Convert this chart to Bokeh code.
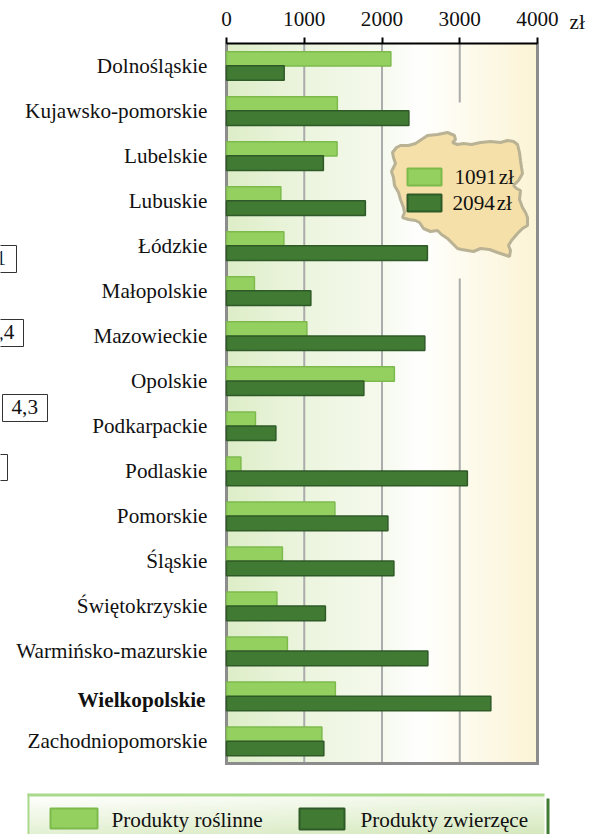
from bokeh.plotting import figure
from bokeh.embed import file_html
from bokeh.resources import INLINE
from bokeh.models import Range1d, FixedTicker, Label, BoxAnnotation, PolyAnnotation
import numpy as np

regions = ["Dolnośląskie", "Kujawsko-pomorskie", "Lubelskie", "Lubuskie", "Łódzkie", "Małopolskie",
           "Mazowieckie", "Opolskie", "Podkarpackie", "Podlaskie", "Pomorskie", "Śląskie",
           "Świętokrzyskie", "Warmińsko-mazurskie", "Wielkopolskie", "Zachodniopomorskie"]
roslinne = [2114, 1426, 1422, 699, 738, 359, 1034, 2159, 372, 185, 1394, 719, 648, 783, 1400, 1227]
zwierzece = [742, 2346, 1246, 1786, 2584, 1085, 2551, 1767, 635, 3098, 2076, 2153, 1272, 2590, 3400, 1252]
x_ticks = [0, 1000, 2000, 3000, 4000]
srednia = ["1091\u200azł", "2094\u200azł"]
legend_names = ["Produkty roślinne", "Produkty zwierzęce"]

LIGHT, LIGHT_E = "#94d060", "#7cba4c"
DARK, DARK_E = "#417a33", "#2f5a28"
FONT = "Liberation Serif"
INK = "#111111"
SIZE = "21.2px"

W, H = 595, 834
L, R = 226.0, 537.0          # plot area, pixels
T, B = 42.5, 763.0
PX_X = (R - L) / 4000.0
PX_Y = (B - T) / 16.0
Y0 = T + PX_Y / 2


def X(px):
    return (px - L) / PX_X


def Y(px):
    return (px - Y0) / PX_Y


p = figure(width=W, height=H, output_backend="svg", toolbar_location=None,
           x_range=Range1d(X(0), X(W)), y_range=Range1d(Y(H), Y(0)),
           x_axis_location="above", min_border=0, margin=(0, 0, 0, 0))
p.background_fill_color = None
p.border_fill_color = None
p.outline_line_color = None
p.xgrid.grid_line_color = None
p.ygrid.grid_line_color = None

rows = np.arange(len(regions))
top, bottom = rows[0] - 0.5, rows[-1] + 0.5

# background gradient of the plot area
stops = [0, .2, .5, .62, .75, 1]
cols = np.array([[222, 238, 200], [234, 244, 219], [246, 250, 238], [255, 255, 255], [254, 252, 240], [252, 244, 214]])
n = int(R - L)
t = np.linspace(0, 1, n)
img = np.zeros((1, n), dtype=np.uint32)
view = img.view(np.uint8).reshape((1, n, 4))
for c in range(3):
    view[0, :, c] = np.interp(t, stops, cols[:, c])
view[0, :, 3] = 255
p.image_rgba(image=[img], x=0, y=top, dw=4000, dh=bottom - top, level="image")

# bottom legend background
lw_, lh_ = 120, 20
limg = np.zeros((lh_, lw_), dtype=np.uint32)
lv = limg.view(np.uint8).reshape((lh_, lw_, 4))
for j in range(lh_):
    for i in range(lw_):
        f = 0.35 * i / (lw_ - 1) + 0.65 * (j / (lh_ - 1))
        lv[j, i, 0] = 254 - 40 * f
        lv[j, i, 1] = 255 - 22 * f
        lv[j, i, 2] = 252 - 62 * f
        lv[j, i, 3] = 255
p.image_rgba(image=[limg], x=X(29), y=Y(796), dw=X(544) - X(29), dh=Y(834) - Y(796), level="image")

# grid and frame
GRID = "#ababab"
for xv in x_ticks[1:3]:
    p.segment(x0=[xv], x1=[xv], y0=[top], y1=[bottom], line_color=GRID, line_width=2, level="underlay")
p.segment(x0=[x_ticks[3]] * 2, x1=[x_ticks[3]] * 2, y0=[top, Y(278)], y1=[Y(102), bottom],
          line_color=GRID, line_width=2, level="underlay")
FRAME = "#8c8c8c"
p.line(x=[x_ticks[0], x_ticks[0], x_ticks[-1], x_ticks[-1]], y=[top, bottom, bottom, top],
       line_color=FRAME, line_width=3, line_join="miter", level="underlay")

p.hbar(y=rows - 0.148, left=0, right=roslinne, height=0.32, fill_color=LIGHT, line_color=LIGHT_E, line_width=1.5)
p.hbar(y=rows + 0.167, left=0, right=zwierzece, height=0.325, fill_color=DARK, line_color=DARK_E, line_width=1.5)

xa = p.xaxis[0]
xa.fixed_location = top
xa.bounds = (x_ticks[0], x_ticks[-1])
xa.ticker = FixedTicker(ticks=x_ticks)
xa.axis_line_color = "black"
xa.axis_line_width = 2
xa.major_tick_line_color = "black"
xa.major_tick_line_width = 2
xa.major_tick_in = 0
xa.major_tick_out = 6
xa.minor_tick_line_color = None
xa.major_label_text_font = FONT
xa.major_label_text_font_size = SIZE
xa.major_label_text_color = INK
xa.major_label_standoff = 11

ya = p.yaxis[0]
ya.fixed_location = 0
ya.bounds = (top, bottom)
ya.ticker = FixedTicker(ticks=[int(r) for r in rows])
ya.axis_line_color = None
ya.major_tick_line_color = None
ya.minor_tick_line_color = None
ya.major_label_text_font = FONT
ya.major_label_text_font_size = SIZE
ya.major_label_text_color = INK
ya.major_label_standoff = 13
ya.major_label_overrides = {int(r): (" " if name == "Wielkopolskie" else name) for r, name in zip(rows, regions)}


def lab(x, y, text, align="left", size=SIZE, style="normal"):
    p.add_layout(Label(x=x, y=y, x_units="canvas", y_units="canvas", text=text, text_font=FONT,
                       text_font_size=size, text_font_style=style, text_color=INK,
                       text_align=align, text_baseline="middle"))


def box(l, r, t, b, fill, line=None, lw=1):
    p.add_layout(BoxAnnotation(left=l, right=r, top=t, bottom=b, left_units="canvas", right_units="canvas",
                               top_units="canvas", bottom_units="canvas", fill_color=fill, fill_alpha=1 if fill else 0,
                               line_color=line, line_width=lw, line_alpha=1 if line else 0))


lab(205, 699, "Wielkopolskie", "right", style="bold")
lab(569, 21, "zł")

# outline of the inset map
map_x = [392, 396, 400, 408, 415, 421, 427, 437, 447, 454, 455, 452, 457, 463, 471, 480, 490, 500, 507, 513, 517, 519, 520, 521, 522, 518, 513, 516, 520, 519, 522, 525, 527, 527, 522, 517, 511, 508, 510, 509, 503, 497, 489, 480, 473, 467, 461, 457, 452, 447, 441, 437, 430, 423, 419, 415, 408, 402, 404, 403, 400, 398, 394, 393, 391, 395, 393]
map_y = [152, 147, 145, 145, 143, 139, 135, 134, 132, 135, 139, 142, 144, 143, 144, 142, 141, 142, 140, 141, 144, 152, 160, 167, 173, 180, 185, 188, 190, 199, 207, 212, 217, 225, 228, 233, 240, 245, 250, 256, 254, 252, 249, 248, 251, 250, 249, 248, 243, 238, 234, 230, 231, 228, 222, 220, 219, 217, 212, 207, 199, 192, 185, 177, 171, 163, 157]
p.add_layout(PolyAnnotation(xs=map_x, ys=map_y, xs_units="canvas", ys_units="canvas", fill_color="#f5e0a9",
                            fill_alpha=1, line_color="#b9b294", line_width=3, line_alpha=1))
box(407, 441, 168, 185, LIGHT, LIGHT_E, 2)
box(407, 441, 194, 211, DARK, DARK_E, 2)
lab(454, 176, srednia[0])
lab(452, 202, srednia[1])

# boxes cut by the page's left edge
for (l, r, t_, b_, s, tx) in [(-5, 16, 245, 272, "1", -5), (-5, 23, 319, 346, ",4", -2), (2, 47, 394, 421, "4,3", 11), (-5, 7, 454, 480, "", 0)]:
    box(l, r, t_, b_, "white", "#333333", 1)
    if s:
        lab(tx, (t_ + b_) / 2 - 1, s)

# bottom legend
box(27, 544, 793, 796, "#a9d98a")
box(27, 29, 793, 836, "#a9d98a")
box(546, 549, 798, 836, DARK)
box(50, 97, 808, 828, LIGHT, LIGHT_E, 2)
box(299, 344, 808, 829, DARK, DARK_E, 2)
lab(111, 819, legend_names[0])
lab(360, 819, legend_names[1])

open("out.html", "w").write(file_html(p, INLINE))
